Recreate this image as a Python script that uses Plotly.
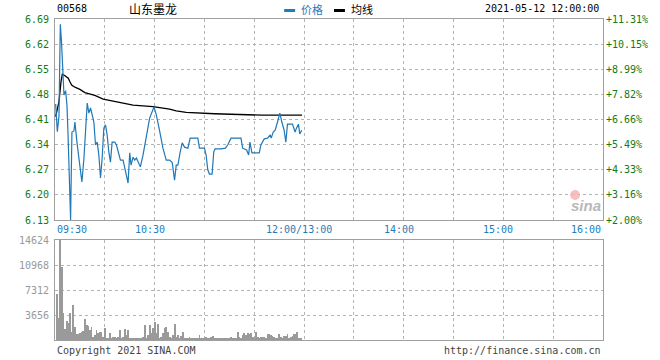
import plotly.graph_objects as go

# ---- data ----
prev_close = 6.01
price_ticks = [6.13, 6.20, 6.27, 6.34, 6.41, 6.48, 6.55, 6.62, 6.69]
pct_labels = ["+2.00%", "+3.16%", "+4.33%", "+5.49%", "+6.66%", "+7.82%", "+8.99%", "+10.15%", "+11.31%"]
vol_ticks = [3656, 7312, 10968, 14624]

# minutes since 09:30 (morning session 0-150, afternoon 150-330)
price_min = [0.4, 1.4, 2.4, 3.2, 3.9, 4.6, 5.4, 6.4, 7.2, 7.8, 9.0, 9.4, 9.6, 10.2, 11.4, 12.0,
             13.2, 14.4, 15.4, 16.2, 17.4, 18.4, 19.4, 20.4, 21.4, 22.4, 23.4, 24.4, 25.4, 26.4,
             27.4, 28.4, 29.4, 30.4, 31.4, 32.4, 33.4, 34.4, 36.0, 37.0, 38.4, 39.4, 41.0, 42.0,
             43.0, 44.0, 45.0, 45.8, 47.0, 48.0, 49.0, 50.0, 51.4, 53.0, 55.0, 57.0, 59.6, 61.0,
             63.0, 65.0, 67.0, 69.0, 70.6, 72.0, 73.0, 74.0, 75.4, 76.6, 78.0, 80.0, 81.4, 86.0,
             87.0, 90.0, 91.0, 92.0, 93.0, 94.6, 95.6, 96.4, 100.0, 102.6, 104.0, 106.0, 112.0,
             113.0, 115.4, 116.6, 117.4, 118.6, 123.0, 124.0, 126.0, 128.0, 129.6, 130.2, 131.4,
             132.6, 134.0, 135.4, 136.6, 138.0, 139.0, 140.0, 143.0, 144.6, 145.4, 146.6, 147.4, 148.6]
price_val = [6.453, 6.376, 6.420, 6.675, 6.627, 6.562, 6.478, 6.490, 6.450, 6.376, 6.200, 6.130,
             6.200, 6.375, 6.378, 6.403, 6.347, 6.303, 6.264, 6.236, 6.300, 6.395, 6.456, 6.428,
             6.442, 6.423, 6.403, 6.339, 6.347, 6.311, 6.247, 6.303, 6.386, 6.395, 6.367, 6.320,
             6.291, 6.347, 6.347, 6.339, 6.311, 6.297, 6.297, 6.275, 6.247, 6.233, 6.317, 6.283,
             6.305, 6.297, 6.303, 6.291, 6.278, 6.311, 6.367, 6.414, 6.445, 6.423, 6.378, 6.330,
             6.297, 6.297, 6.290, 6.241, 6.283, 6.283, 6.320, 6.345, 6.333, 6.330, 6.358, 6.358,
             6.330, 6.330, 6.311, 6.270, 6.258, 6.258, 6.320, 6.328, 6.328, 6.330, 6.339, 6.358,
             6.358, 6.330, 6.325, 6.311, 6.347, 6.317, 6.317, 6.339, 6.356, 6.358, 6.367, 6.358,
             6.375, 6.380, 6.403, 6.428, 6.403, 6.380, 6.347, 6.397, 6.397, 6.375, 6.386, 6.397,
             6.370, 6.380]

avg_min = [0.4, 1.4, 2.4, 3.6, 4.4, 6.0, 8.0, 9.0, 10.0, 12.0, 15.0, 18.0, 20.0, 24.0, 29.0,
           37.0, 47.0, 59.0, 69.0, 73.0, 79.0, 96.0, 115.8, 124.8, 148.8]
avg_val = [6.418, 6.436, 6.460, 6.515, 6.536, 6.532, 6.525, 6.515, 6.506, 6.500, 6.494, 6.485,
           6.482, 6.477, 6.467, 6.460, 6.450, 6.446, 6.439, 6.434, 6.430, 6.426, 6.424, 6.422, 6.422]

volume = [0, 6727, 3169, 14624, 10725, 3900, 1609, 2779, 2437, 3900, 1219, 5119, 1950, 877, 829,
          975, 1219, 1316, 3071, 2194, 2096, 1463, 1950, 487, 731, 1463, 975, 1121, 1219, 487,
          1706, 244, 244, 1072, 340, 487, 487, 244, 487, 1463, 340, 487, 1560, 731, 1463, 244,
          150, 150, 200, 150, 150, 150, 150, 487, 2194, 244, 731, 2194, 975, 1706, 2681, 975,
          2389, 244, 487, 975, 1804, 1901, 1219, 487, 340, 731, 2389, 487, 731, 244, 633, 1219,
          200, 150, 300, 487, 200, 150, 300, 200, 150, 731, 200, 150, 200, 487, 340, 150, 487,
          585, 200, 150, 200, 250, 150, 200, 150, 200, 250, 150, 487, 200, 150, 200, 1219, 487,
          200, 731, 1072, 731, 975, 829, 975, 487, 200, 1219, 487, 200, 440, 487, 440, 200, 926,
          926, 731, 585, 487, 340, 200, 877, 487, 340, 585, 585, 926, 244, 487, 585, 829, 829,
          1219, 244, 150]
vol_min = list(range(len(volume)))

x_labels = ["09:30", "10:30", "12:00/13:00", "14:00", "15:00", "16:00"]

# ---- layout helpers (pixel -> paper) ----
W, H = 660, 360
L, R, T, B = 55, 55, 19, 20
PW, PH = W - L - R, H - T - B


def px(x):
    return (x - L) / PW


def py(y):
    return (H - B - y) / PH


MONO = "DejaVu Sans Mono"
GREEN = "#137a13"
BLUE = "#1f7db8"
GRID = "#b4b4b4"
FRAME = "#a0a0a0"

fig = go.Figure()
fig.add_trace(go.Bar(x=vol_min, y=volume, xaxis="x2", yaxis="y2", width=0.55,
                     marker=dict(color="#9a9a9a", line=dict(width=0)), showlegend=False))
fig.add_trace(go.Scatter(x=avg_min, y=avg_val, mode="lines", line=dict(color="#000000", width=1.3),
                         showlegend=False))
fig.add_trace(go.Scatter(x=price_min, y=price_val, mode="lines", line=dict(color="#1f78b8", width=1.2),
                         showlegend=False))
fig.add_trace(go.Scatter(x=[0], y=[6.4], yaxis="y3", mode="markers", marker=dict(opacity=0),
                         hoverinfo="skip", showlegend=False))

axis_common = dict(showline=True, mirror=True, linecolor=FRAME, linewidth=1,
                   showgrid=True, gridcolor=GRID, griddash="dot", gridwidth=1,
                   zeroline=False, fixedrange=True)

main_dom = [py(220), 1.0]
vol_dom = [0.0, py(240)]

fig.update_layout(
    width=W, height=H, autosize=False,
    margin=dict(l=L, r=R, t=T, b=B, pad=0),
    paper_bgcolor="white", plot_bgcolor="white",
    bargap=0,
    xaxis=dict(range=[0, 330], tick0=0, dtick=30, showticklabels=False, anchor="y", **axis_common),
    yaxis=dict(domain=main_dom, range=[6.13, 6.69], tickvals=price_ticks,
               ticktext=[f"{v:.2f}" for v in price_ticks], tickfont=dict(family=MONO, size=10, color=GREEN),
               ticks="", ticklabelstandoff=3, **axis_common),
    yaxis3=dict(overlaying="y", side="right", range=[6.13, 6.69], tickvals=price_ticks, ticktext=pct_labels,
                tickfont=dict(family=MONO, size=10, color=GREEN), showgrid=False, zeroline=False,
                showline=False, ticks="", ticklabelstandoff=2, fixedrange=True),
    xaxis2=dict(range=[0, 330], tick0=0, dtick=30, showticklabels=False, anchor="y2", **axis_common),
    yaxis2=dict(domain=vol_dom, range=[0, 14624], tickvals=vol_ticks, ticktext=[str(v) for v in vol_ticks],
                tickfont=dict(family=MONO, size=10, color="#999999"), ticks="", ticklabelstandoff=3,
                anchor="x2", **axis_common),
)

ann = []


def text(x, y, s, anchor="left", size=10, color="#000000", family=MONO, **kw):
    ann.append(dict(x=px(x), y=py(y), xref="paper", yref="paper", text=s, showarrow=False,
                    xanchor=anchor, yanchor="middle", font=dict(family=family, size=size, color=color), **kw))


text(55, 9, "00568")
text(153, 9, "山东墨龙", anchor="center", size=12, family="Noto Sans CJK SC")
text(300, 9, "价格", size=11, color=BLUE, family="Noto Sans CJK SC")
text(350, 9, "均线", size=11, family="Noto Sans CJK SC")
text(603, 9, "2021-05-12 12:00:00", anchor="right")

label_pos = [(55, "left"), (150, "center"), (300, "center"), (400, "center"), (500, "center"), (605, "right")]
for (xp, anc), s in zip(label_pos, x_labels):
    text(xp, 229, s, anchor=anc, color=BLUE)

text(55, 350, "Copyright 2021 SINA.COM", color="#444444")
text(605, 350, "http://finance.sina.com.cn", anchor="right", color="#444444")
text(588, 205, "<b><i>sina</i></b>", anchor="center", size=15, color="#b8b8b8", family="Arial")

fig.update_layout(annotations=ann)

shapes = [
    dict(type="rect", xref="paper", yref="paper", x0=px(285), x1=px(296), y0=py(12), y1=py(9),
         fillcolor=BLUE, line=dict(width=0)),
    dict(type="rect", xref="paper", yref="paper", x0=px(335), x1=px(346), y0=py(12), y1=py(9),
         fillcolor="#000000", line=dict(width=0)),
    dict(type="circle", xref="paper", yref="paper", x0=px(572), x1=px(582), y0=py(200), y1=py(190),
         fillcolor="#f3b0b0", opacity=0.8, line=dict(width=0)),
]
fig.update_layout(shapes=shapes)

fig.write_html("out.html")
